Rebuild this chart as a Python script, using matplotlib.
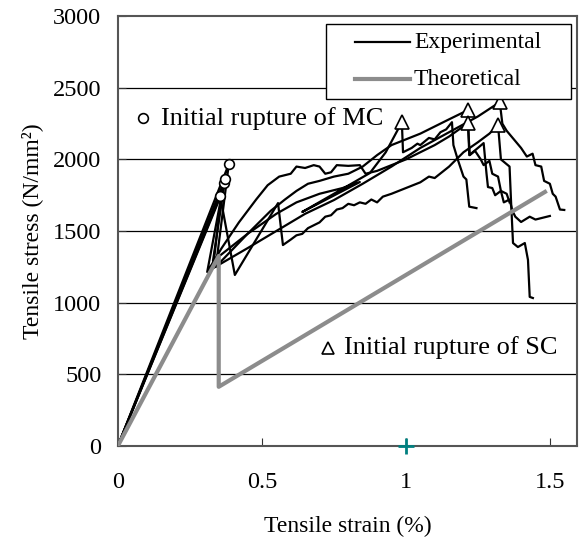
import matplotlib
matplotlib.use("Agg")
import matplotlib.pyplot as plt
from matplotlib.patches import Rectangle

plt.rcParams['font.family'] = ['Liberation Serif', 'DejaVu Serif']

# Experimental curves (strain %, stress N/mm2)
s1_x = [0, 0.372, 0.33, 0.45, 0.55, 0.62, 0.70, 0.78, 0.84, 0.64, 0.75, 0.875, 0.93, 0.986, 0.99, 1.02, 1.04, 1.05, 1.08, 1.10, 1.12, 1.14, 1.16, 1.165, 1.18, 1.20, 1.21, 1.22, 1.245]
s1_y = [0, 1862, 1290, 1480, 1620, 1700, 1760, 1800, 1842, 1633, 1760, 1905, 2050, 2260, 2050, 2080, 2110, 2100, 2150, 2140, 2190, 2210, 2260, 2100, 2000, 1880, 1860, 1670, 1660]

s2_x = [0, 0.385, 0.34, 0.45, 0.53, 0.58, 0.62, 0.66, 0.70, 0.75, 0.80, 0.85, 0.90, 0.95, 1.00, 1.05, 1.10, 1.15, 1.215, 1.22, 1.25, 1.27, 1.28, 1.285, 1.30, 1.31, 1.33, 1.34, 1.36, 1.37, 1.38, 1.40, 1.43, 1.45, 1.50]
s2_y = [0, 1967, 1250, 1480, 1640, 1720, 1780, 1830, 1850, 1880, 1900, 1950, 2030, 2100, 2140, 2180, 2230, 2280, 2344, 2030, 2080, 2114, 1900, 1807, 1800, 1750, 1780, 1700, 1720, 1640, 1600, 1563, 1600, 1580, 1605]

s3_x = [0, 0.368, 0.31, 0.36, 0.42, 0.48, 0.52, 0.56, 0.60, 0.62, 0.65, 0.68, 0.70, 0.72, 0.74, 0.76, 0.80, 0.84, 0.86, 0.90, 0.95, 1.00, 1.05, 1.10, 1.15, 1.215, 1.222, 1.24, 1.26, 1.27, 1.29, 1.30, 1.32, 1.33, 1.35, 1.36]
s3_y = [0, 1835, 1214, 1380, 1560, 1720, 1820, 1880, 1900, 1950, 1940, 1960, 1950, 1900, 1910, 1960, 1955, 1960, 1900, 1920, 1960, 2000, 2050, 2100, 2160, 2253, 2030, 2060, 2000, 1960, 1990, 1900, 1880, 1780, 1760, 1700]

s4_x = [0, 0.36, 0.33, 0.45, 0.55, 0.65, 0.75, 0.85, 0.95, 1.05, 1.15, 1.25, 1.326, 1.335, 1.35, 1.40, 1.42, 1.44, 1.45, 1.47, 1.48, 1.50, 1.51, 1.52, 1.535, 1.55]
s4_y = [0, 1760, 1240, 1380, 1500, 1620, 1716, 1830, 1950, 2080, 2190, 2300, 2400, 2250, 2200, 2080, 2020, 2040, 1960, 1950, 1850, 1830, 1760, 1740, 1650, 1647]

s5_x = [0, 0.355, 0.406, 0.556, 0.573, 0.60, 0.62, 0.64, 0.66, 0.68, 0.70, 0.72, 0.74, 0.76, 0.78, 0.80, 0.82, 0.84, 0.86, 0.88, 0.90, 0.92, 0.95, 1.00, 1.05, 1.08, 1.10, 1.15, 1.20, 1.25, 1.29, 1.32, 1.33, 1.36, 1.365, 1.372, 1.389, 1.413, 1.424, 1.43, 1.441]
s5_y = [0, 1745, 1193, 1695, 1402, 1440, 1470, 1480, 1520, 1540, 1560, 1600, 1610, 1650, 1660, 1690, 1680, 1700, 1690, 1720, 1700, 1740, 1760, 1800, 1840, 1880, 1870, 1950, 2050, 2120, 2180, 2240, 2000, 1950, 1716, 1416, 1388, 1416, 1298, 1040, 1032]

# Theoretical curve
theo_x = [0, 0.35, 0.35, 1.483]
theo_y = [0, 1326, 412, 1773]

# Initial rupture points
mc_x = [0.355, 0.368, 0.372, 0.385]
mc_y = [1745, 1835, 1862, 1967]
sc_x = [0.986, 1.215, 1.215, 1.326, 1.32]
sc_y = [2260, 2344, 2253, 2400, 2240]

x_ticks = [0, 0.5, 1, 1.5]
x_ticklabels = ['0', '0.5', '1', '1.5']
y_ticks = [0, 500, 1000, 1500, 2000, 2500, 3000]
legend_labels = ['Experimental', 'Theoretical']

fig = plt.figure(figsize=(5.81, 5.41), dpi=100)
ax = fig.add_axes([0.203, 0.176, 0.790, 0.794])

for yv in y_ticks[1:-1]:
    ax.axhline(yv, color='black', lw=0.9, zorder=1)

exp = [(s1_x, s1_y), (s2_x, s2_y), (s3_x, s3_y), (s4_x, s4_y), (s5_x, s5_y)]
for xs, ys in exp:
    ax.plot(xs, ys, color='black', lw=1.6, zorder=3, solid_joinstyle='round')
ax.plot(theo_x, theo_y, color='#8c8c8c', lw=3, zorder=4)

ax.plot(mc_x, mc_y, 'o', mfc='white', mec='black', ms=7, mew=1.2, zorder=5)
ax.plot(sc_x, sc_y, '^', mfc='white', mec='black', ms=10, mew=1.2, zorder=5)

ax.plot([1], [0], '+', color='#008080', ms=11, mew=2, clip_on=False, zorder=6)

# annotations
ax.plot([0.087], [2289], 'o', mfc='white', mec='black', ms=7, mew=1.2)
ax.text(0.150, 2289, 'Initial rupture of MC', fontsize=19, va='center', ha='left')
ax.plot([0.729], [684], '^', mfc='white', mec='black', ms=8, mew=1.2)
ax.text(0.785, 684, 'Initial rupture of SC', fontsize=19, va='center', ha='left')

ax.set_xlim(0, 1.594)
ax.set_ylim(0, 3000)
ax.set_xticks(x_ticks)
ax.set_xticklabels(x_ticklabels)
ax.set_yticks(y_ticks)
ax.tick_params(axis='both', direction='in', labelsize=17.5, length=6, color='#333333')
ax.tick_params(axis='x', pad=19)
ax.tick_params(axis='y', pad=12)
for sp in ax.spines.values():
    sp.set_color('#555555')
    sp.set_linewidth(1.5)

ax.set_xlabel('Tensile strain (%)', fontsize=17, labelpad=16)
ax.set_ylabel('Tensile stress (N/mm²)', fontsize=17, labelpad=7)

# legend box (drawn in axes fraction)
ax.add_patch(Rectangle((0.453, 0.807), 0.534, 0.174, transform=ax.transAxes,
                       facecolor='white', edgecolor='black', lw=1.0, zorder=7))
ax.plot([0.516, 0.636], [0.940, 0.940], transform=ax.transAxes, color='black', lw=1.6, zorder=8)
ax.plot([0.516, 0.636], [0.853, 0.853], transform=ax.transAxes, color='#8c8c8c', lw=3, zorder=8)
ax.text(0.645, 0.940, legend_labels[0], transform=ax.transAxes, fontsize=17, va='center', ha='left', zorder=8)
ax.text(0.645, 0.853, legend_labels[1], transform=ax.transAxes, fontsize=17, va='center', ha='left', zorder=8)

fig.savefig('out.png', dpi=100)
